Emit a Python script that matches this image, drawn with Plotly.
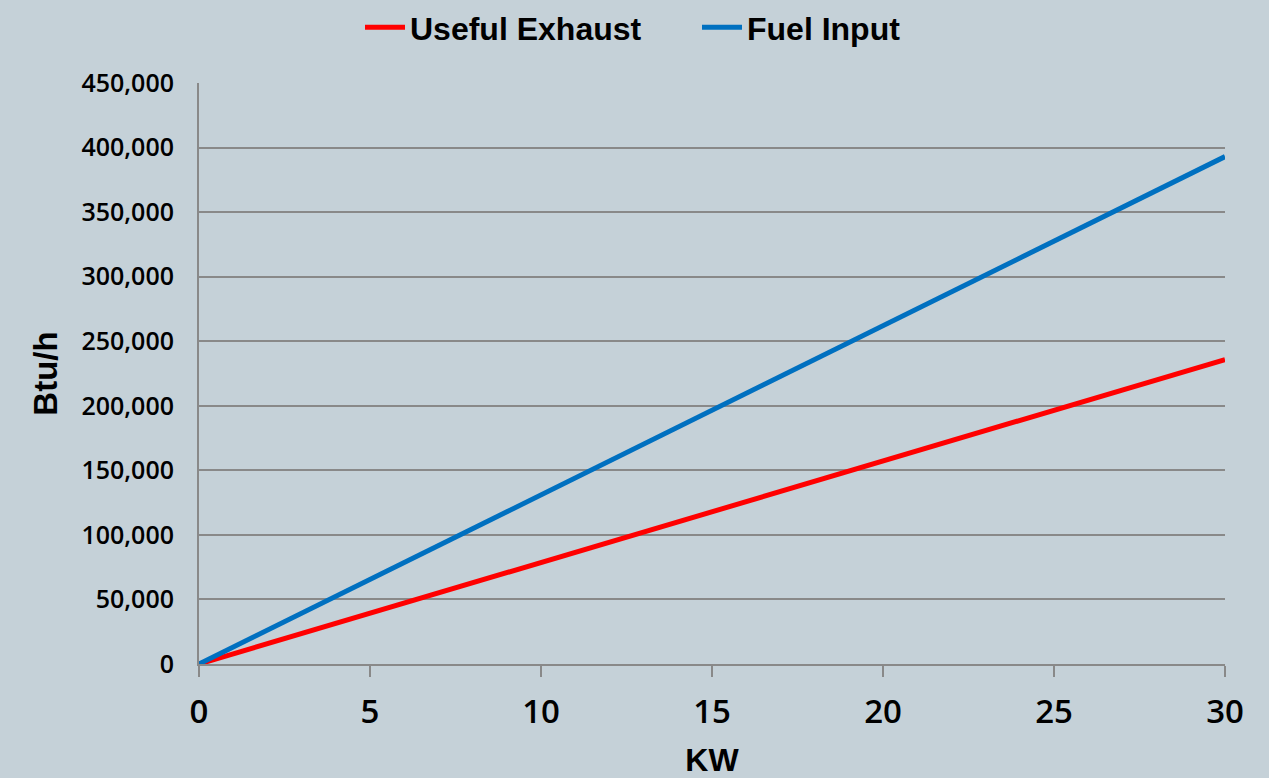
import plotly.graph_objects as go

kw = [0, 5, 10, 15, 20, 25, 30]
useful_exhaust = [0, 39300, 78600, 117900, 157200, 196500, 235800]
fuel_input = [0, 65500, 131000, 196500, 262000, 327500, 393000]

BG = "rgb(197,209,216)"
GRID = "rgb(137,137,137)"
TICKFONT = "Open Sans"
TITLEFONT = "Liberation Sans"

fig = go.Figure()
fig.add_trace(go.Scatter(x=kw, y=useful_exhaust, mode="lines", name="Useful Exhaust",
                         line=dict(color="#FF0000", width=5)))
fig.add_trace(go.Scatter(x=kw, y=fuel_input, mode="lines", name="Fuel Input",
                         line=dict(color="#0070C0", width=5)))

fig.update_layout(
    width=1269, height=778,
    paper_bgcolor=BG, plot_bgcolor=BG,
    margin=dict(l=199, r=44, t=83, b=114, autoexpand=False),
    showlegend=True,
    legend=dict(orientation="h", x=360 / 1269, xanchor="left", xref="container",
                y=1.0, yref="container", yanchor="top",
                font=dict(family=TITLEFONT, size=32, color="black", weight="bold"),
                bgcolor="rgba(0,0,0,0)", entrywidth=282, entrywidthmode="pixels",
                itemwidth=40, tracegroupgap=0),
    xaxis=dict(range=[0, 30], dtick=5, tick0=0, showgrid=False, zeroline=False,
               showline=True, linecolor=GRID, linewidth=2, automargin=False,
               ticks="outside", ticklen=11, tickcolor=GRID, tickwidth=2, ticklabelstandoff=6,
               tickfont=dict(family=TICKFONT, size=33, color="black", weight=600),
               title=dict(text="KW", font=dict(family=TITLEFONT, size=32, color="black", weight="bold"),
                          standoff=18)),
    yaxis=dict(range=[0, 450000], dtick=50000, tick0=0, tickformat=",",
               showgrid=True, gridcolor=GRID, gridwidth=1.5, zeroline=False,
               showline=True, linecolor=GRID, linewidth=2, ticks="", ticklabelstandoff=18,
               automargin=False,
               tickfont=dict(family=TICKFONT, size=25, color="black", weight=600),
               title=dict(text="Btu/h", font=dict(family=TITLEFONT, size=33, color="black", weight="bold"),
                          standoff=14)),
)

fig.write_html("out.html")
